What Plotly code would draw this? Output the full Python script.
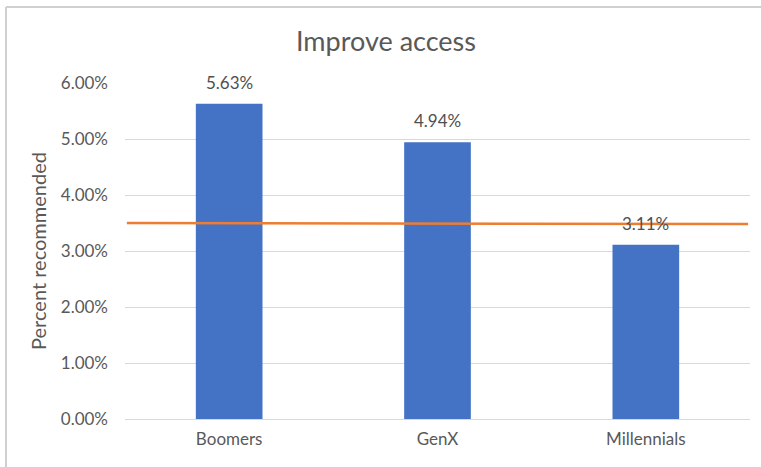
import plotly.graph_objects as go

categories = ["Boomers", "GenX", "Millennials"]
values = [0.0563, 0.0494, 0.0311]
labels = ["5.63%", "4.94%", "3.11%"]
avg_x = [0.003, 0.997]
avg_y = [0.0350, 0.0348]
tick_vals = [0, 0.01, 0.02, 0.03, 0.04, 0.05, 0.06]
tick_text = ["0.00%", "1.00%", "2.00%", "3.00%", "4.00%", "5.00%", "6.00%"]

FONT = "Lato, Open Sans, sans-serif"
fig = go.Figure()
fig.add_trace(go.Bar(x=categories, y=values, marker=dict(color="#4472C4", line_width=0),
                     width=0.32, showlegend=False, hoverinfo="skip"))
fig.add_trace(go.Scatter(x=avg_x, y=avg_y, xaxis="x2", mode="lines",
                         line=dict(color="#ED7D31", width=2.5), showlegend=False))
for c, v, t in zip(categories, values, labels):
    fig.add_annotation(x=c, y=v, text=t, showarrow=False, yanchor="bottom", yshift=9,
                       font=dict(family=FONT, size=17, color="#505050"))

L, R, T, B = 125, 11, 83, 48
W, H = 761, 467
pw, ph = W - L - R, H - T - B
def px(x): return (x - L) / pw
def py(y): return (H - B - y) / ph
fig.add_shape(type="line", xref="paper", yref="paper", x0=px(6), x1=px(6), y0=py(7), y1=py(470),
              line=dict(color="#d0d0d0", width=2))
fig.add_shape(type="line", xref="paper", yref="paper", x0=px(6), x1=px(765), y0=py(7), y1=py(7),
              line=dict(color="#d0d0d0", width=2))

fig.update_layout(
    width=W, height=H, margin=dict(l=L, r=R, t=T, b=B),
    paper_bgcolor="white", plot_bgcolor="white",
    title=dict(text="Improve access", x=386 / W, xanchor="center", y=1 - 42 / H, yanchor="middle",
               font=dict(family=FONT, size=27, color="#595959")),
    xaxis=dict(showgrid=False, showline=False, ticks="", tickfont=dict(family=FONT, size=17, color="#595959"),
               ticklabelstandoff=8),
    xaxis2=dict(overlaying="x", range=[0, 1], visible=False),
    yaxis=dict(range=[0, 0.06], tickvals=tick_vals, ticktext=tick_text, showgrid=True, gridcolor="#d9d9d9",
               gridwidth=1, zeroline=True, zerolinecolor="#d9d9d9", zerolinewidth=1, showline=False,
               ticklabelstandoff=16,
               tickfont=dict(family=FONT, size=17, color="#595959"),
               title=dict(text="Percent recommended", standoff=8, font=dict(family=FONT, size=20, color="#595959"))),
    bargap=0.68,
)
fig.write_html("out.html")
